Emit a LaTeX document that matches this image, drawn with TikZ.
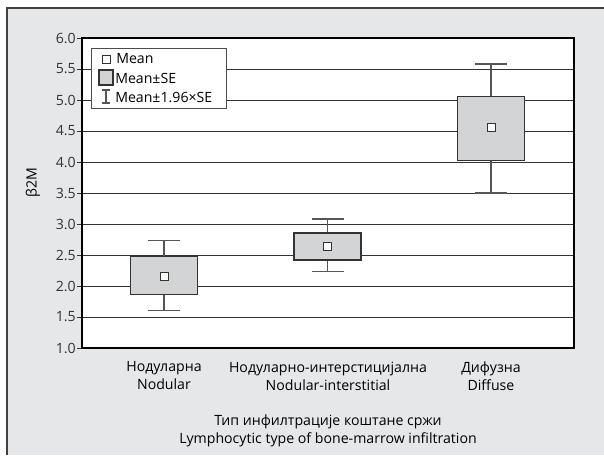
\documentclass[tikz,border=0pt]{standalone}
\usepackage{fontspec}
\setmainfont{Open Sans}
\definecolor{panel}{HTML}{E6E7E8}
\definecolor{boxfill}{HTML}{D3D4D6}
\definecolor{gridline}{HTML}{333333}
\definecolor{whisker}{HTML}{555555}
\tikzset{
  gridrule/.style={gridline, line width=0.75pt},
  sebox/.style={draw=black!80, fill=boxfill, line width=0.8pt},
  cibar/.style={whisker, line width=0.9pt},
  meanmark/.style={draw=black!80, fill=white, line width=0.7pt, minimum size=6pt, inner sep=0pt}
}
\pgfkeys{/pgf/number format/.cd, fixed, precision=1, fixed zerofill, assume math mode=true}
\begin{document}
\begin{tikzpicture}[x=0.75pt,y=-0.75pt,font=\fontsize{10.6}{13.5}\selectfont]
      \useasboundingbox (0,0) rectangle (604,455);
      \fill [panel] (7,8) rectangle (604,455);
      \draw [black!75, line width=0.8pt] (7,455) -- (7,8) -- (604,8);
      % plot area, y in data units
      \begin{scope}[shift={(0,410)}, y=46.5pt]
      \fill [white] (82,1) rectangle (574,6);
      \foreach \v in {1.5,2.0,...,5.5}
        \draw [gridrule] (82,\v) -- (574,\v);
      \foreach \v in {1.0,1.5,...,6.0}
        \draw [gridrule] (77,\v) -- (82,\v)
              node [left=1pt] {\pgfmathprintnumber{\v}};
      \draw [black, line width=1pt] (82,1) rectangle (574,6);
      \foreach \c/\lo/\sl/\m/\sh/\hi/\n in {164/1.60/1.87/2.16/2.47/2.74/nod,
                                          327.5/2.23/2.42/2.645/2.855/3.08/mix,
                                          491/3.50/4.02/4.55/5.06/5.58/dif} {
        \draw [cibar] (\c,\lo) -- (\c,\hi)
                      ({\c-16},\lo) -- ({\c+16},\lo)
                      ({\c-16},\hi) -- ({\c+16},\hi);
        \draw [sebox] ({\c-33.5},\sl) rectangle ({\c+33.5},\sh);
        \node [meanmark] (\n) at (\c,\m) {};
      }
      \end{scope}
      % legend
      \node [draw=black!70, fill=white, line width=0.7pt, minimum width=101.25pt,
             minimum height=45pt, inner sep=0pt] (legend) at (158.5,78) {};
      \node [meanmark] (lmean) at (106,59) {};
      \draw [sebox] (99,70) rectangle (113,85) coordinate (lse);
      \draw [cibar] (106,90) -- (106,103) (102,90) -- (110,90) (102,103) -- (110,103);
      \node [anchor=west, inner sep=0pt] (tmean) at (116,59) {Mean};
      \node [anchor=west, inner sep=0pt] (tse) at (115,78) {Mean±SE};
      \node [anchor=west, inner sep=0pt] (tci) at (115,97) {Mean±1.96×SE};
      % labels
      \node [rotate=90] (ylab) at (33,183) {β2M};
      \node [align=center, inner sep=0pt] (xnod) at (164,376) {Нодуларна\\Nodular};
      \node [align=center, inner sep=0pt] (xmix) at (328,376) {Нодуларно-интерстицијална\\Nodular-interstitial};
      \node [align=center, inner sep=0pt] (xdif) at (491,376) {Дифузна\\Diffuse};
      \node [align=center, inner sep=0pt] (xtitle) at (328,431)
            {Тип инфилтрације коштане сржи\\Lymphocytic type of bone-marrow infiltration};
\end{tikzpicture}
\end{document}
